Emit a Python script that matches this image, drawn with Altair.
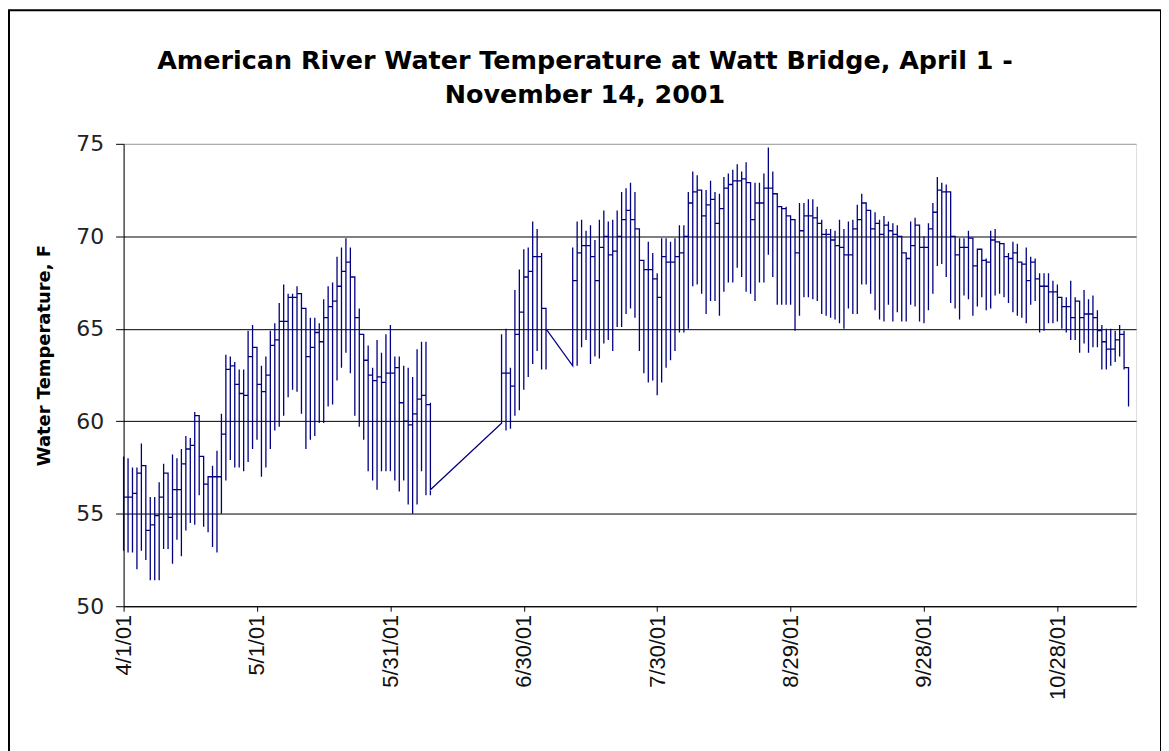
import altair as alt
import pandas as pd

# ---- data (daily high, daily low, level at day's end) ----
# day index 0 = 4/1/01; None = no record
day_hi = [
    58.1, 58.0, 57.5, 57.5, 58.8, 57.6, 55.9, 55.9, 56.7, 57.7,
    57.2, 58.2, 58.0, 58.5, 59.2, 59.1, 60.5, 60.3, 58.1, 56.7,
    57.6, 58.4, 60.4, 63.6, 63.5, 63.2, 62.8, 62.8, 64.9, 65.2,
    64.0, 63.0, 63.5, 64.9, 65.3, 66.4, 67.4, 66.9, 66.9, 67.3,
    66.9, 65.6, 65.6, 65.6, 65.3, 66.6, 67.3, 67.5, 68.9, 69.4,
    69.9, 69.4, 67.8, 66.1, 64.7, 64.1, 62.9, 64.4, 63.7, 64.7,
    65.2, 63.5, 63.5, 63.0, 62.9, 62.4, 63.9, 64.3, 64.3, 61.0,
    None, None, None, None, None, None, None, None, None, None,
    None, None, None, None, None, 64.7, 65.0, 62.9, 67.1, 68.2,
    69.3, 69.4, 70.8, 70.4, 69.1, 66.1, None, None, None, None,
    None, 69.4, 70.8, 70.9, 70.3, 70.6, 69.8, 70.9, 71.4, 70.8,
    70.9, 71.4, 72.4, 72.6, 72.9, 72.4, 70.4, 68.7, 69.7, 69.1,
    68.0, 69.9, 69.9, 69.7, 69.9, 70.6, 70.6, 72.4, 73.5, 73.3,
    72.3, 72.5, 73.0, 72.4, 72.3, 73.2, 73.4, 73.6, 73.9, 73.5,
    74.0, 72.9, 72.9, 72.9, 73.4, 74.8, 73.5, 72.3, 71.6, 71.6,
    71.1, 70.6, 71.8, 71.8, 72.0, 72.0, 71.6, 70.9, 70.4, 70.4,
    70.3, 70.9, 70.4, 70.8, 70.9, 71.7, 72.3, 71.7, 71.4, 71.3,
    70.9, 71.1, 70.8, 70.7, 70.6, 69.6, 69.1, 70.8, 71.0, 70.6,
    70.0, 70.7, 71.8, 73.2, 72.9, 72.8, 72.1, 70.0, 69.9, 69.9,
    70.3, 69.4, 69.3, 69.3, 68.8, 70.3, 70.4, 69.6, 69.6, 69.1,
    69.7, 69.6, 68.5, 69.4, 68.9, 68.8, 68.0, 68.0, 68.0, 67.6,
    67.4, 66.7, 66.7, 67.6, 66.7, 66.2, 67.1, 66.6, 66.8, 66.0,
    65.2, 65.0, 65.0, 64.9, 65.2, 64.9, 62.9,
]
day_lo = [
    53.0, 52.9, 52.9, 52.0, 53.0, 52.5, 51.4, 51.4, 51.4, 53.1,
    53.1, 52.3, 53.6, 52.7, 54.1, 54.5, 54.4, 56.0, 54.3, 54.0,
    53.2, 52.9, 55.0, 56.8, 57.9, 57.5, 57.5, 57.3, 57.8, 58.5,
    59.0, 57.0, 57.5, 58.5, 59.5, 59.7, 60.3, 61.3, 61.7, 61.6,
    60.4, 58.5, 59.0, 59.2, 59.9, 59.9, 60.8, 60.9, 62.2, 62.9,
    63.7, 62.6, 60.3, 59.7, 59.0, 57.3, 56.8, 56.3, 57.3, 57.3,
    57.3, 56.8, 56.2, 56.8, 55.5, 55.0, 55.5, 57.3, 56.0, 56.0,
    None, None, None, None, None, None, None, None, None, None,
    None, None, None, None, None, 59.9, 59.5, 59.6, 60.3, 60.6,
    61.7, 62.4, 63.1, 63.8, 62.8, 62.8, None, None, None, None,
    None, 63.0, 63.0, 64.0, 64.4, 63.1, 63.5, 63.4, 64.2, 64.4,
    63.8, 65.1, 65.1, 65.8, 66.1, 65.6, 63.8, 62.6, 62.1, 62.2,
    61.4, 62.1, 62.9, 63.3, 63.8, 64.8, 64.8, 65.0, 67.3, 67.4,
    66.9, 65.8, 66.5, 66.5, 65.7, 67.0, 67.5, 67.5, 68.3, 67.8,
    67.0, 66.9, 66.5, 67.5, 67.5, 69.0, 67.8, 66.3, 66.3, 66.3,
    66.3, 64.9, 65.7, 66.7, 66.7, 66.6, 66.5, 65.8, 65.7, 65.6,
    65.5, 65.3, 65.0, 66.1, 65.8, 65.8, 67.4, 67.4, 66.9, 66.0,
    65.5, 65.4, 66.3, 65.4, 65.9, 65.4, 65.4, 66.3, 66.2, 65.4,
    65.3, 66.0, 66.9, 68.4, 68.5, 67.8, 66.4, 66.1, 65.5, 66.8,
    66.6, 65.7, 66.2, 66.7, 66.0, 66.1, 66.8, 66.9, 66.7, 66.4,
    65.9, 65.7, 65.6, 65.3, 66.3, 66.5, 64.8, 64.9, 65.3, 65.3,
    65.4, 65.0, 64.8, 64.4, 64.4, 63.7, 64.2, 63.7, 64.0, 64.0,
    62.8, 62.8, 63.0, 63.2, 63.5, 62.8, 60.8,
]
day_end = [
    55.9, 55.9, 56.1, 57.2, 57.6, 54.1, 54.4, 54.9, 55.9, 57.2,
    54.8, 56.3, 56.3, 57.7, 58.5, 58.7, 60.3, 58.1, 56.6, 57.0,
    57.0, 57.0, 59.3, 62.8, 63.0, 62.0, 61.5, 61.4, 63.5, 64.0,
    62.0, 61.6, 62.5, 64.1, 64.4, 65.4, 65.4, 66.7, 66.7, 66.9,
    66.1, 63.5, 64.0, 64.8, 64.3, 65.6, 66.2, 66.5, 67.3, 68.1,
    68.6, 67.8, 65.6, 64.7, 63.3, 62.5, 62.2, 62.4, 62.1, 62.6,
    62.6, 62.9, 61.0, 60.0, 59.8, 60.4, 61.2, 61.4, 60.9, 56.3,
    None, None, None, None, None, None, None, None, None, None,
    None, None, None, None, None, 62.6, 62.6, 61.9, 64.7, 65.9,
    67.8, 68.1, 68.9, 68.9, 66.1, 65.0, None, None, None, None,
    None, 67.6, 69.1, 69.5, 69.5, 68.9, 67.6, 69.4, 70.0, 69.0,
    69.2, 70.0, 70.9, 71.4, 70.9, 70.4, 68.7, 68.2, 68.2, 67.7,
    66.7, 68.9, 68.6, 68.6, 68.9, 69.1, 70.0, 71.8, 72.4, 72.5,
    71.1, 71.7, 72.0, 70.7, 71.5, 72.6, 72.8, 73.0, 73.0, 73.1,
    72.9, 70.9, 71.8, 71.8, 72.6, 72.6, 72.3, 71.6, 71.5, 71.1,
    70.9, 69.1, 70.3, 71.1, 71.1, 71.0, 70.7, 70.1, 70.1, 69.8,
    69.5, 69.4, 69.0, 69.0, 70.4, 70.9, 71.8, 71.4, 70.4, 70.7,
    70.1, 70.6, 70.3, 70.1, 70.0, 69.1, 68.8, 69.5, 70.6, 69.4,
    69.4, 70.4, 71.3, 72.5, 72.4, 72.4, 70.0, 69.0, 69.4, 69.4,
    69.9, 68.4, 69.3, 68.7, 68.6, 69.8, 69.7, 69.6, 68.9, 68.8,
    69.1, 68.6, 68.5, 67.6, 68.6, 67.7, 67.3, 67.3, 67.0, 67.0,
    66.7, 66.2, 66.2, 65.6, 66.5, 65.6, 65.8, 65.8, 65.6, 64.9,
    64.3, 63.9, 63.9, 64.4, 64.7, 62.9, 62.6,
]
# first reading after a gap in the record
restart_days = [85, 101]
restart_vals = [59.9, 63.0]

tick_days = [0, 30, 60, 90, 120, 150, 180, 210]
tick_labels = ["4/1/01", "5/1/01", "5/31/01", "6/30/01",
               "7/30/01", "8/29/01", "9/28/01", "10/28/01"]
y_ticks = [50, 55, 60, 65, 70, 75]

title_lines = ["American River Water Temperature at Watt Bridge, April 1 -",
               "November 14, 2001"]
y_title = "Water Temperature, F"

# ---- build the trace: within a day all readings share the same x ----
rows = []
seq = 0
prev_end = None
restart = dict(zip(restart_days, restart_vals))
for d in range(len(day_hi)):
    if day_hi[d] is None:
        continue
    if d in restart:
        entry = restart[d]
    elif prev_end is not None:
        entry = prev_end
    else:
        entry = day_end[d]
    for v in (entry, day_lo[d], day_hi[d], day_end[d]):
        rows.append({"seq": seq, "day": d, "temp": v})
        seq += 1
    prev_end = day_end[d]
df = pd.DataFrame(rows)

label_expr = "[" + ",".join("'%s'" % t for t in tick_labels) + "][round(datum.value/30)]"

W, H = 1016, 464

line = alt.Chart(df).mark_line(color="#000080", strokeWidth=1.3).encode(
    x=alt.X("day:Q",
            scale=alt.Scale(domain=[0, 227.7], nice=False, zero=False),
            axis=alt.Axis(values=tick_days, labelExpr=label_expr, title=None,
                          grid=False, labelAngle=270, labelAlign="right",
                          labelBaseline="middle", labelFont="Liberation Sans",
                          labelFontSize=22, labelColor="#111", labelPadding=3,
                          tickSize=5, tickColor="black", domainColor="black",
                          tickWidth=1, domainWidth=1)),
    y=alt.Y("temp:Q",
            scale=alt.Scale(domain=[50, 75], nice=False, zero=False),
            axis=alt.Axis(values=y_ticks, title=y_title, grid=True,
                          gridColor=alt.condition("datum.value == 75",
                                                  alt.value("#a0a0a0"),
                                                  alt.value("black")),
                          gridWidth=1, tickSize=8, tickColor="black",
                          domainColor="black", labelFont="DejaVu Sans",
                          labelFontSize=22, labelColor="#222", labelPadding=12,
                          titleFont="DejaVu Sans", titleFontSize=18,
                          titleFontWeight="bold", titleColor="black",
                          titleX=-79, titleY=212, titleAngle=270,
                          titleAlign="center", titleBaseline="middle",
                          titleLimit=400)),
    order="seq:Q",
)

frame = alt.Chart(pd.DataFrame({"f": [0]})).mark_rect(
    filled=False, stroke="black", strokeWidth=2
).encode(x=alt.value(-115), x2=alt.value(1041), y=alt.value(-134), y2=alt.value(620))

chart = alt.layer(line, frame).properties(
    width=W, height=H,
    title=alt.TitleParams(text=title_lines, font="DejaVu Sans", fontSize=25.5,
                          fontWeight="bold", color="black", lineHeight=35,
                          anchor="middle", dx=-45, offset=-100),
    autosize=alt.AutoSizeParams(type="none"),
    padding={"left": 116, "top": 135, "right": 25, "bottom": 150},
).configure_view(stroke="#a0a0a0", strokeWidth=1).configure(
    background="white"
)

chart.save("out.html", embed_options={"renderer": "svg", "actions": False})
